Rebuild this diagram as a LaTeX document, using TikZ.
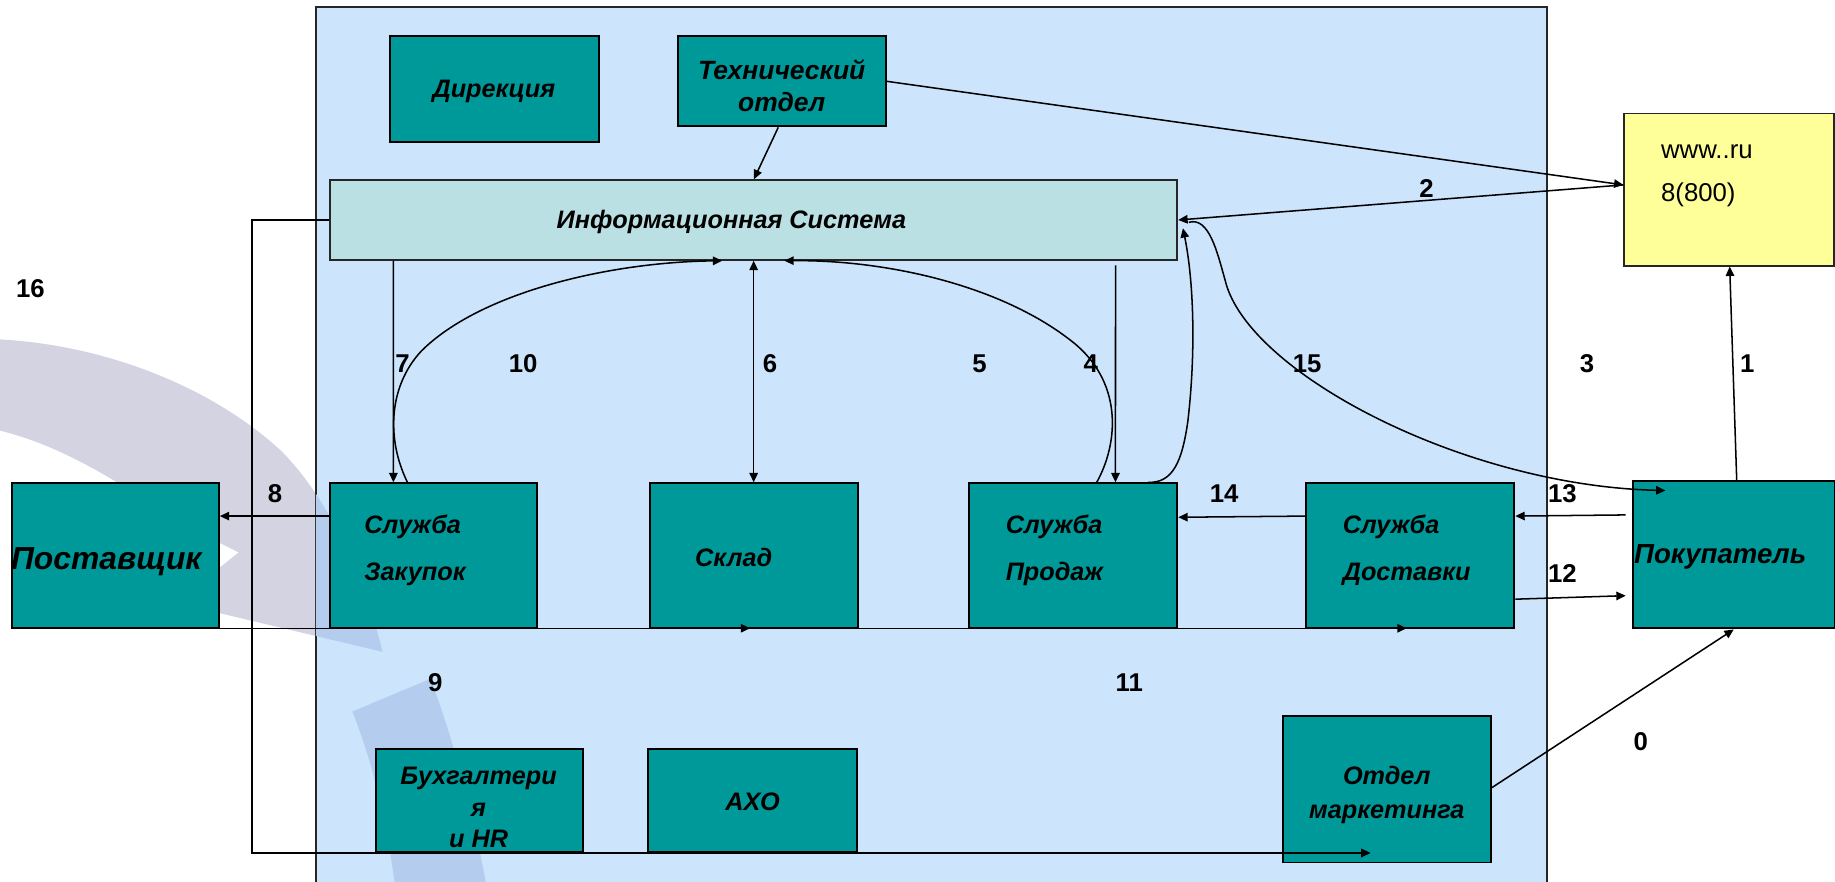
\documentclass[tikz,border=0pt]{standalone}
\usepackage{fontspec}
\setmainfont{Liberation Sans}
\usetikzlibrary{arrows.meta,calc}
\definecolor{bgblue}{RGB}{204,228,252}
\definecolor{teal}{RGB}{0,153,153}
\definecolor{infofill}{RGB}{186,224,227}
\definecolor{yel}{RGB}{255,255,153}
\definecolor{wmgrey}{RGB}{211,211,226}
\definecolor{wmblue}{RGB}{180,205,238}
\newcommand\wmarkpath{(0,290) .. controls (90,295) and (180,330) .. (240,385) .. controls (280,425) and (310,490) .. (327,557) -- (150,515) -- (204,472) -- (150,445) .. controls (100,410) and (50,380) .. (0,368) -- cycle (301,608) -- (368,580) .. controls (390,640) and (405,700) .. (415,753) -- (415,770) -- (337,770) -- (337,753) .. controls (330,700) and (318,650) .. (301,608) -- cycle}
\tikzset{
  box/.style={draw=black, line width=0.85pt, fill=teal, inner sep=0pt},
  btxt/.style={font=\fontsize{10.8}{13.5}\selectfont\bfseries\itshape, inner sep=0pt, align=center},
  num/.style={font=\fontsize{11}{13}\selectfont\bfseries, inner sep=0pt},
  arr/.style={draw=black, line width=0.65pt, -{Triangle[length=4pt,width=3.6pt]}},
  ln/.style={draw=black, line width=0.65pt},
}
\begin{document}
\begin{tikzpicture}[x=0.5pt,y=-0.5pt]
\useasboundingbox (0,0) rectangle (1568,753);
% watermark
\fill[wmgrey] \wmarkpath;
\node[draw=black!85, line width=0.8pt, fill=bgblue, minimum width=526pt, minimum height=382pt, inner sep=0pt] (org) at (796,388) {};
\begin{scope}
\clip (270,6) rectangle (1322,770);
\fill[wmblue] \wmarkpath;
\end{scope}
% boxes
\node[box, minimum width=89.5pt, minimum height=45pt] (dir) at (422.5,76) {};
\node[btxt] (dirt) at (422,78) {Дирекция};
\node[box, minimum width=89pt, minimum height=38.5pt] (tech) at (668,69.5) {};
\node[btxt, font=\fontsize{11.3}{13.8}\selectfont\bfseries\itshape] (techt) at (668,73) {Технический\\отдел};
\node[draw=black!85, line width=0.8pt, fill=infofill, minimum width=362pt, minimum height=34pt, inner sep=0pt] (info) at (644,188) {};
\node[btxt] (infot) at (625,190) {Информационная Система};
\node[draw=black!85, line width=0.8pt, fill=yel, minimum width=89.5pt, minimum height=65pt, inner sep=0pt] (yel) at (1477.5,162) {};
\node[font=\fontsize{11}{18.5}\selectfont, anchor=west, align=left, inner sep=0pt] (yelt) at (1419,150) {www..ru\\8(800)};
\node[box, minimum width=88.5pt, minimum height=62pt] (post) at (98.5,475) {};
\node[btxt, font=\fontsize{13.6}{16}\selectfont\bfseries\itshape, anchor=west] (postt) at (9,480) {Поставщик};
\node[box, minimum width=88.5pt, minimum height=62pt] (zak) at (370.5,475) {};
\node[btxt, font=\fontsize{10.8}{20}\selectfont\bfseries\itshape, anchor=west, align=left] (zakt) at (311,470) {Служба\\Закупок};
\node[box, minimum width=89pt, minimum height=62pt] (skl) at (644,475) {};
\node[btxt] (sklt) at (627,476) {Склад};
\node[box, minimum width=89pt, minimum height=62pt] (prod) at (917,475) {};
\node[btxt, font=\fontsize{10.8}{20}\selectfont\bfseries\itshape, anchor=west, align=left] (prodt) at (859,470) {Служба\\Продаж};
\node[box, minimum width=89pt, minimum height=62pt] (dost) at (1205,475) {};
\node[btxt, font=\fontsize{10.8}{20}\selectfont\bfseries\itshape, anchor=west, align=left] (dostt) at (1147,470) {Служба\\Доставки};
\node[box, minimum width=86.5pt, minimum height=63pt] (pok) at (1481.5,474) {};
\node[btxt, font=\fontsize{11.8}{14}\selectfont\bfseries\itshape, anchor=west] (pokt) at (1396,476) {Покупатель};
\node[box, minimum width=88.5pt, minimum height=44pt] (buh) at (409.5,684) {};
\node[btxt] (buht) at (409,690) {Бухгалтери\\я\\и HR};
\node[box, minimum width=89pt, minimum height=44pt] (axo) at (643,684) {};
\node[btxt] (axot) at (643,685) {АХО};
\node[box, minimum width=89pt, minimum height=62.5pt] (mark) at (1185,674.5) {};
\node[btxt, font=\fontsize{10.8}{14.5}\selectfont\bfseries\itshape] (markt) at (1185,679) {Отдел\\маркетинга};
% connectors
\draw[arr] ($(tech.south)+(-3,0)$) -- ($(info.north west)+(363,0)$);
\draw[arr] (tech.east) -- ($(yel.west)+(0,-4)$);
\draw[arr] ($(yel.west)+(0,-4)$) -- (info.east);
\draw[arr] ($(info.south west)+(55,0)$) -- ($(zak.north west)+(55,0)$);
\draw[arr] ($(zak.north west)+(67,0)$) .. controls (330,375) and (332,330) .. (360,300) .. controls (410,250) and (520,224) .. ($(info.south west)+(336,0)$);
\draw[arr, {Triangle[length=4pt,width=3.6pt]}-{Triangle[length=4pt,width=3.6pt]}] (info.south) -- (skl.north);
\draw[arr] ($(prod.north west)+(110,0)$) .. controls (955,380) and (960,330) .. (920,295) .. controls (860,245) and (760,222) .. ($(info.south west)+(389,0)$);
\draw[arr] ($(info.south west)+(672,4)$) -- ($(prod.north west)+(126,0)$);
\draw[arr] ($(prod.north east)+(-26,0)$) .. controls (1002,413) and (1010,395) .. (1015,360) .. controls (1022,300) and (1020,240) .. ($(info.east)+(4,7)$);
\draw[arr] ($(info.east)+(9,2)$) .. controls (1033,185) and (1040,215) .. (1047,240) .. controls (1066,318) and (1250,415) .. ($(pok.north west)+(29,9)$);
\draw[arr] ($(pok.north)+(2.5,0)$) -- ($(yel.south)+(0.5,0)$);
\draw[arr] ($(pok.west)+(-5,-34)$) -- ($(dost.east)+(0,-34)$);
\draw[arr] ($(dost.east)+(0,37)$) -- ($(pok.west)+(-5,35)$);
\draw[arr] ($(dost.west)+(0,-34)$) -- ($(prod.east)+(0,-33)$);
\draw[arr] ($(zak.west)+(0,-34)$) -- ($(post.east)+(0,-34)$);
\coordinate (b0) at ($(post.south)+(-13,-1)$);
\coordinate (b1) at ($(skl.south)+(-3,-1)$);
\coordinate (b2) at ($(dost.south)+(-3,-1)$);
\draw[arr] (b0) -- (b1);
\draw[arr] (b1) -- (b2);
\draw[arr] (info.west) -- ++(-66,0) |- ($(mark.south west)+(76,-9)$);
\draw[arr] ($(mark.east)+(0,-1.5)$) -- (pok.south);
% numbers
\node[num] (n16) at (26,247) {16};
\node[num] (n7) at (344,311) {7};
\node[num] (n10) at (447,311) {10};
\node[num] (n6) at (658,311) {6};
\node[num] (n5) at (837,311) {5};
\node[num] (n4) at (932,311) {4};
\node[num] (n15) at (1117,311) {15};
\node[num] (n3) at (1356,311) {3};
\node[num] (n1) at (1493,311) {1};
\node[num] (n2) at (1219,161) {2};
\node[num] (n8) at (235,422) {8};
\node[num] (n14) at (1046,422) {14};
\node[num] (n13) at (1335,422) {13};
\node[num] (n12) at (1335,490) {12};
\node[num] (n9) at (372,583) {9};
\node[num] (n11) at (965,583) {11};
\node[num] (n0) at (1402,634) {0};
\end{tikzpicture}
\end{document}
